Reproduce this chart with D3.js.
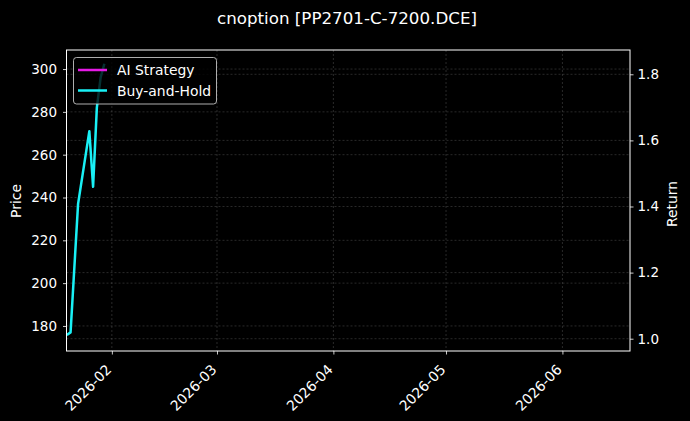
<!DOCTYPE html>
<html><head><meta charset="utf-8">
<script src="https://cdn.jsdelivr.net/npm/d3@7"></script>
<style>
html,body{margin:0;padding:0;background:#000;}
svg{display:block;font-family:"DejaVu Sans",sans-serif;}
</style></head>
<body><svg id="c" width="690" height="421"></svg>
<script>
const title = "cnoption [PP2701-C-7200.DCE]";
const dates = ["2026-01-20","2026-01-21","2026-01-23","2026-01-26","2026-01-27","2026-01-28","2026-01-29","2026-01-30"];
const buyHold = [175.8, 177.0, 237.0, 271.0, 245.0, 282.0, 296.0, 302.5];
const seriesNames = ["AI Strategy", "Buy-and-Hold"];
const seriesColors = ["#e61ae6", "#19f0f5"];
const priceTicks = [180, 200, 220, 240, 260, 280, 300];
const returnTicks = [1.0, 1.2, 1.4, 1.6, 1.8];
const xTicks = ["2026-02-01","2026-03-01","2026-04-01","2026-05-01","2026-06-01"];
const xDomain = ["2026-01-19T22:00","2026-06-19T00:00"];
const priceDomain = [168.3, 308.9];
const returnDomain = [0.9628, 1.8735];

const parse = d3.isoParse;
const svg = d3.select("#c");
const L = 66.5, R = 630, T = 50, B = 351;
const x = d3.scaleTime().domain(xDomain.map(parse)).range([L, R]);
const yL = d3.scaleLinear().domain(priceDomain).range([B, T]);
const yR = d3.scaleLinear().domain(returnDomain).range([B, T]);

svg.append("rect").attr("width",690).attr("height",421).attr("fill","#000");

// grid
const grid = svg.append("g").attr("stroke","#9a9a9a").attr("stroke-opacity",0.45)
  .attr("stroke-width",0.6).attr("stroke-dasharray","2,2");
xTicks.map(parse).forEach(d=>grid.append("line").attr("x1",x(d)).attr("x2",x(d)).attr("y1",T).attr("y2",B));
priceTicks.forEach(v=>grid.append("line").attr("x1",L).attr("x2",R).attr("y1",yL(v)).attr("y2",yL(v)));
returnTicks.forEach(v=>grid.append("line").attr("x1",L).attr("x2",R).attr("y1",yR(v)).attr("y2",yR(v)));

// line
const data = dates.map((d,i)=>({d:parse(d), v:buyHold[i]}));
svg.append("path").datum(data)
  .attr("fill","none").attr("stroke",seriesColors[1]).attr("stroke-width",2.5)
  .attr("stroke-linejoin","round")
  .attr("d", d3.line().x(p=>x(p.d)).y(p=>yL(p.v)));

// axes
const fmt = d3.timeFormat("%Y-%m");
const xa = svg.append("g").attr("transform",`translate(0,${B})`)
  .call(d3.axisBottom(x).tickValues(xTicks.map(parse)).tickFormat(fmt).tickSize(3.5));
const ya = svg.append("g").attr("transform",`translate(${L},0)`)
  .call(d3.axisLeft(yL).tickValues(priceTicks).tickSize(3.5).tickPadding(6));
const yr = svg.append("g").attr("transform",`translate(${R},0)`)
  .call(d3.axisRight(yR).tickValues(returnTicks).tickFormat(d3.format(".1f")).tickSize(3.5).tickPadding(4));
[xa,ya,yr].forEach(g=>{
  g.select(".domain").remove();
  g.selectAll("line").attr("stroke","#fff").attr("stroke-width",0.8);
  g.selectAll("text").attr("fill","#fff").attr("font-size","13.5px").attr("font-family","DejaVu Sans");
});
xa.selectAll("text").attr("x",0).attr("y",0).attr("dy",0).attr("dx",0)
  .attr("font-size","14px").attr("text-anchor","end")
  .attr("transform","translate(0,19.5) rotate(-45)");
svg.append("rect").attr("x",L).attr("y",T).attr("width",R-L).attr("height",B-T)
  .attr("fill","none").attr("stroke","#fff").attr("stroke-width",1);

// labels
svg.append("text").attr("x",347).attr("y",24).attr("text-anchor","middle")
  .attr("fill","#fff").attr("font-size","16.7px").text(title);
svg.append("text").attr("transform","translate(21,201) rotate(-90)").attr("text-anchor","middle")
  .attr("fill","#fff").attr("font-size","13.9px").text("Price");
svg.append("text").attr("transform","translate(677,204) rotate(-90)").attr("text-anchor","middle")
  .attr("fill","#fff").attr("font-size","13.9px").text("Return");

// legend
const lg = svg.append("g");
lg.append("rect").attr("x",73.5).attr("y",57.5).attr("width",143).attr("height",46.5)
  .attr("rx",3).attr("fill","#000").attr("fill-opacity",0.8)
  .attr("stroke","#ccc").attr("stroke-opacity",0.85).attr("stroke-width",1);
seriesNames.forEach((n,i)=>{
  const yy = 70 + i*20.5;
  lg.append("line").attr("x1",78).attr("x2",107).attr("y1",yy).attr("y2",yy)
    .attr("stroke",seriesColors[i]).attr("stroke-width",2.5);
  lg.append("text").attr("x",117).attr("y",yy+5).attr("fill","#fff")
    .attr("font-size","13.9px").text(n);
});
</script></body></html>
